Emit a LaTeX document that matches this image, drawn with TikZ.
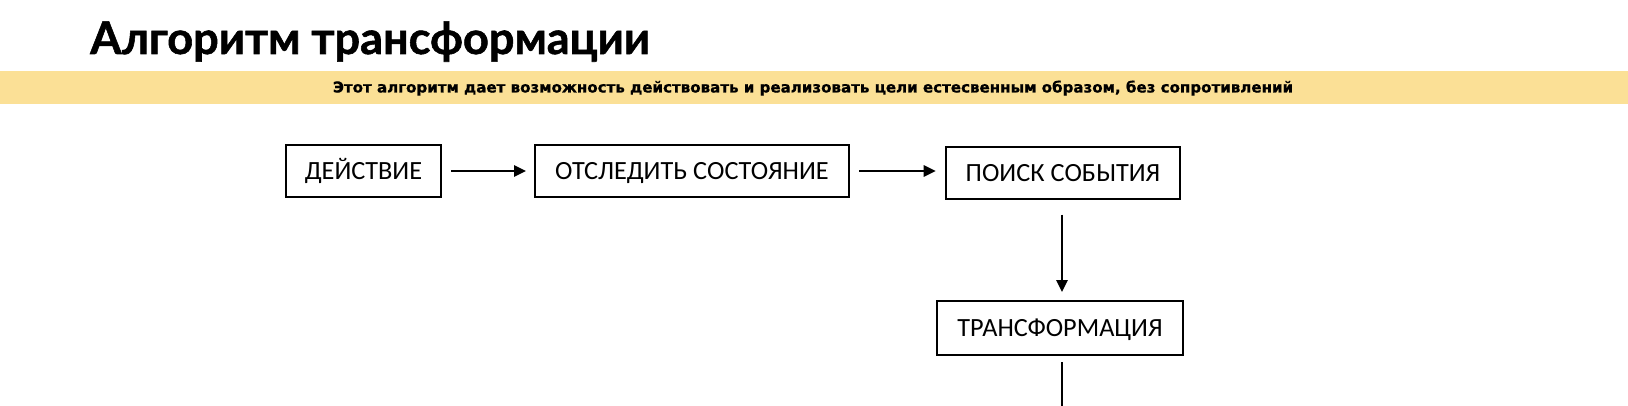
\documentclass[tikz,border=0pt]{standalone}
\usepackage{fontspec}
\setmainfont{Carlito}
\newfontfamily\headfont{Lato}[FakeBold=1.2]
\newfontfamily\subfont{DejaVu Sans}[FakeBold=0.8]
\usetikzlibrary{arrows.meta}
\definecolor{band}{HTML}{FBE096}
\tikzset{
  box/.style={draw=black, line width=1.5pt, inner sep=0pt, minimum height=39pt,
    text height=12.7pt, text depth=0pt, font=\fontsize{19.7}{23}\selectfont},
  conn/.style={line width=1.5pt, -{Triangle[length=9pt,width=8.5pt]}},
  plain/.style={line width=1.5pt}
}
\begin{document}
\begin{tikzpicture}[x=0.75pt,y=-0.75pt]
\useasboundingbox (0,0) rectangle (1628,406);
\fill[white] (0,0) rectangle (1628,406);
\fill[band] (0,71) rectangle (1628,104);
\node[anchor=base west, inner sep=0pt, font=\headfont\bfseries\fontsize{33.8}{40}\selectfont] (title) at (90,54) {Алгоритм трансформации};
\node[anchor=base, inner sep=0pt, font=\subfont\bfseries\fontsize{11.3}{14}\selectfont] (sub) at (813,92.5) {Этот алгоритм дает возможность действовать и реализовать цели естесвенным образом, без сопротивлений};
\node[box, minimum width=116.25pt] (a) at (363.5,171) {ДЕЙСТВИЕ};
\node[box, minimum width=235.5pt] (b) at (692,171) {ОТСЛЕДИТЬ СОСТОЯНИЕ};
\node[box, minimum width=175.5pt] (c) at (1063,173) {ПОИСК СОБЫТИЯ};
\node[box, minimum width=184.5pt, minimum height=40.5pt] (d) at (1060,328) {ТРАНСФОРМАЦИЯ};
\coordinate (e) at (1062,406);
\draw[conn, shorten <=6.75pt, shorten >=6pt] (a.east) -- (b.west);
\draw[conn, shorten <=6.75pt, shorten >=7pt] (b.east) -- (b.east -| c.west);
\draw[conn, shorten <=11pt, shorten >=6pt] (c.south -| e) -- (d.north -| e);
\draw[plain, shorten <=4.5pt] (d.south -| e) -- (e);
\end{tikzpicture}
\end{document}
